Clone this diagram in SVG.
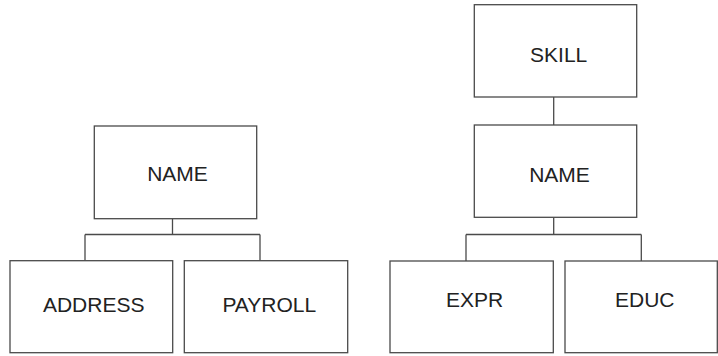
<svg xmlns="http://www.w3.org/2000/svg" width="718" height="356" viewBox="0 0 718 356">
<style>
.box{fill:#fff;stroke:#4a4a4a;stroke-width:1.3}
.lbl{font-family:"Liberation Sans",Arial,sans-serif;font-size:21px;fill:#222;text-anchor:middle}
.con{fill:none;stroke:#4a4a4a;stroke-width:1.3}
</style>
<rect width="718" height="356" fill="#fff"/>
<g id="connectors">
<path class="con" d="M172.5 218.7V234.5M85 234.5H260M85 234.5V260.7M260 234.5V260.7"/>
<path class="con" d="M553.7 97V125"/>
<path class="con" d="M553.7 217.3V234.5M466 234.5H641.3M466 234.5V261M641.3 234.5V261"/>
</g>
<g id="name1"><rect class="box" x="94.3" y="126" width="162.4" height="92.7"/><text class="lbl" x="177.5" y="180.5">NAME</text></g>
<g id="address"><rect class="box" x="10" y="260.7" width="162.7" height="92"/><text class="lbl" x="93.7" y="312.3">ADDRESS</text></g>
<g id="payroll"><rect class="box" x="184.3" y="260.7" width="163.4" height="92"/><text class="lbl" x="269.3" y="312.3">PAYROLL</text></g>
<g id="skill"><rect class="box" x="474.3" y="4.7" width="162.4" height="92.3"/><text class="lbl" x="558.7" y="61.7">SKILL</text></g>
<g id="name2"><rect class="box" x="474.3" y="125" width="162.4" height="92.3"/><text class="lbl" x="559.5" y="181.7">NAME</text></g>
<g id="expr"><rect class="box" x="390" y="261" width="163.3" height="91.7"/><text class="lbl" x="474.5" y="307.3">EXPR</text></g>
<g id="educ"><rect class="box" x="565" y="261" width="152.3" height="91.7"/><text class="lbl" x="644.8" y="307.3">EDUC</text></g>
</svg>
